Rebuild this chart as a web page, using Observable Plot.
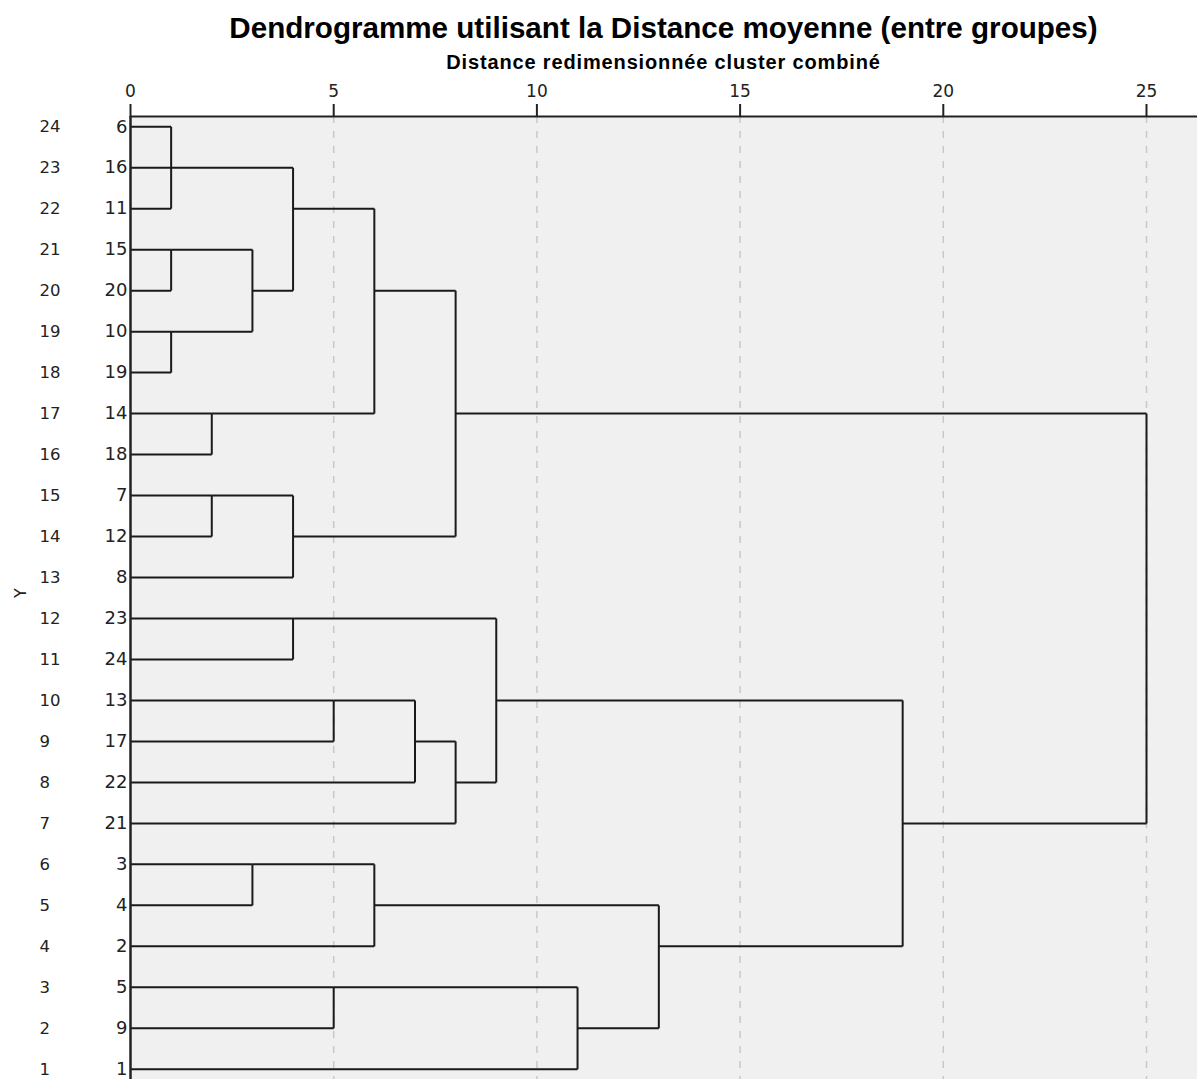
<!DOCTYPE html>
<html>
<head>
<meta charset="utf-8">
<script src="https://cdn.jsdelivr.net/npm/d3@7"></script>
<script src="https://cdn.jsdelivr.net/npm/@observablehq/plot@0.6"></script>
<style>
  body { margin: 0; background: #fff; }
  #wrap { position: relative; width: 1197px; height: 1079px; overflow: hidden; }
  #chart { position: absolute; left: 0; top: 0; }
  #title { position: absolute; left: 130px; width: 1067px; top: 13px; text-align: center;
           font-family: "Liberation Sans", Arial, sans-serif; font-weight: bold; font-size: 29.6px; line-height: 29px; color: #000; white-space: nowrap; }
  #subtitle { position: absolute; left: 130px; width: 1067px; top: 52px; text-align: center;
           font-family: "Liberation Sans", Arial, sans-serif; font-weight: bold; font-size: 20px; line-height: 20px; letter-spacing: 0.85px; color: #000; white-space: nowrap; }
</style>
</head>
<body>
<div id="wrap">
  <div id="chart"></div>
  <div id="title">Dendrogramme utilisant la Distance moyenne (entre groupes)</div>
  <div id="subtitle">Distance redimensionnée cluster combiné</div>
</div>
<script>
// Leaves from top (Y = 24) to bottom (Y = 1)
const leaves = ["6","16","11","15","20","10","19","14","18","7","12","8","23","24","13","17","22","21","3","4","2","5","9","1"];
const yValues = leaves.map((_, i) => leaves.length - i);

// Merges (in agglomeration order): name, members, rescaled distance
const mergeNames = ["A","B","C","D","E","F","G","H","I","J","K","L","M","N","O","P","Q","R","S","T","U","V"];
const mergeChildren = [
  ["6","16","11"], ["15","20"], ["10","19"], ["B","C"], ["A","D"], ["14","18"], ["E","F"],
  ["7","12"], ["H","8"], ["G","I"],
  ["23","24"], ["13","17"], ["L","22"], ["M","21"], ["K","N"],
  ["3","4"], ["P","2"], ["5","9"], ["R","1"], ["Q","S"],
  ["O","T"], ["J","U"]
];
const mergeDistances = [1, 1, 1, 3, 4, 2, 6, 2, 4, 8, 4, 5, 7, 8, 9, 3, 6, 5, 11, 13, 19, 25];
const xTicks = [0, 5, 10, 15, 20, 25];

// Build the dendrogram segments
const rowOf = new Map(), distOf = new Map();
leaves.forEach((l, i) => { rowOf.set(l, leaves.length - i); distOf.set(l, 0); });
const horiz = [], vert = [];
mergeNames.forEach((m, k) => {
  const kids = mergeChildren[k], d = mergeDistances[k];
  const rows = kids.map(c => rowOf.get(c));
  kids.forEach(c => horiz.push({x1: distOf.get(c), x2: d, y: rowOf.get(c)}));
  const lo = Math.min(...rows), hi = Math.max(...rows);
  vert.push({x: d, y1: lo, y2: hi});
  rowOf.set(m, Math.ceil((lo + hi) / 2));
  distOf.set(m, d);
});

const yMin = 0.75, yMax = leaves.length + 0.25;
const xMax = 25 * 1067 / 1016;
const lineColor = "#1a1a1a";

const chart = Plot.plot({
  width: 1197,
  height: 1079,
  marginTop: 116,
  marginLeft: 130,
  marginRight: 0,
  marginBottom: 0,
  style: { fontFamily: "'DejaVu Sans', sans-serif", fontSize: "16px", color: "#222", background: "transparent", overflow: "visible" },
  x: { domain: [0, xMax], axis: null },
  y: { domain: [yMin, yMax], axis: null },
  marks: [
    Plot.frame({ fill: "#f0f0f0", stroke: null }),
    Plot.ruleX(xTicks.slice(1), { stroke: "#c8c8c8", strokeDasharray: "7,8", strokeWidth: 1.5 }),
    Plot.link(horiz, { x1: "x1", x2: "x2", y1: "y", y2: "y", stroke: lineColor, strokeWidth: 2 }),
    Plot.link(vert, { x1: "x", x2: "x", y1: "y1", y2: "y2", stroke: lineColor, strokeWidth: 2 }),
    Plot.ruleY([yMax], { stroke: "#222", strokeWidth: 2 }),
    Plot.ruleX([0], { stroke: "#222", strokeWidth: 2.5 }),
    Plot.axisX({ anchor: "top", ticks: xTicks, tickSize: 13, tickPadding: 7, label: null, fontSize: 17, stroke: "#222", strokeWidth: 2 }),
    Plot.axisY({ anchor: "left", ticks: yValues, tickSize: 0, tickPadding: 91, textAnchor: "start", label: null, fontSize: 16.5 }),
    Plot.text(leaves, { x: 0, y: (d, i) => leaves.length - i, text: d => d, textAnchor: "end", dx: -3, fontSize: 18, fill: "#222" }),
    Plot.text(["Y"], { frameAnchor: "left", dx: -110, rotate: -90, text: d => d, fontSize: 16, fill: "#222" })
  ]
});
document.getElementById("chart").appendChild(chart);
</script>
</body>
</html>
